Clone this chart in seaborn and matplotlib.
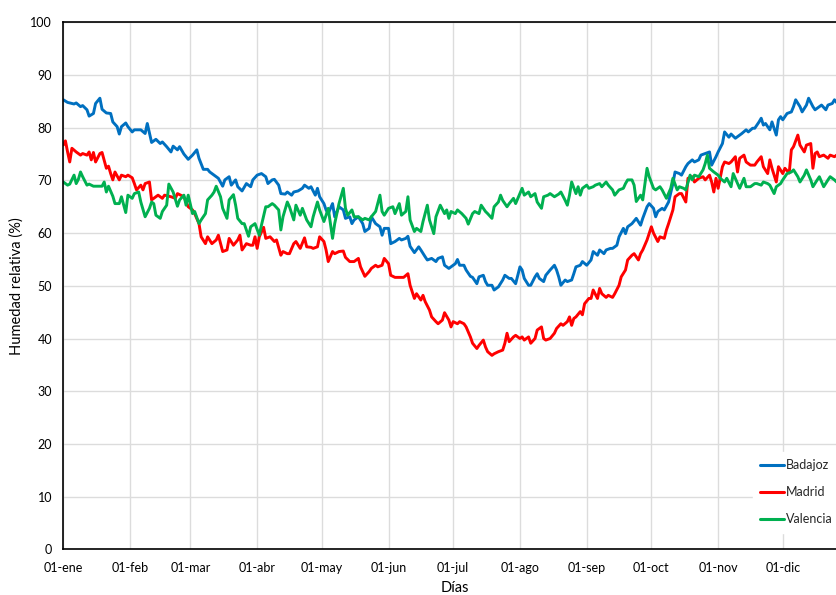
import numpy as np
import pandas as pd
import matplotlib
matplotlib.use("Agg")
import matplotlib.pyplot as plt
import seaborn as sns

# ---- data (day of year, relative humidity %) ----
badajoz_days = [0, 2, 5, 6, 8, 9, 11, 12, 14, 15, 17, 18, 20, 22, 23, 25, 26, 27, 29, 30, 32, 33, 36, 38, 39, 41, 43, 45, 46, 48, 50, 51, 53, 54, 56, 58, 60, 62, 63, 65, 67, 68, 70, 72, 74, 75, 77, 78, 80, 81, 83, 85, 87, 88, 90, 92, 94, 95, 97, 98, 100, 101, 103, 104, 106, 107, 109, 111, 112, 114, 115, 117, 118, 119, 121, 122, 123, 125, 126, 128, 130, 131, 133, 134, 135, 137, 139, 140, 142, 143, 145, 147, 148, 149, 151, 152, 154, 156, 157, 159, 160, 161, 163, 165, 166, 168, 169, 171, 173, 174, 176, 177, 179, 180, 182, 183, 184, 186, 187, 189, 190, 192, 193, 195, 196, 197, 199, 200, 202, 204, 205, 207, 208, 210, 212, 213, 214, 216, 217, 219, 220, 221, 223, 224, 226, 228, 229, 230, 231, 233, 234, 236, 237, 238, 240, 241, 243, 245, 246, 248, 249, 251, 252, 254, 255, 257, 258, 260, 261, 262, 264, 266, 268, 269, 271, 272, 274, 275, 276, 278, 279, 281, 283, 284, 286, 287, 289, 290, 292, 293, 295, 296, 298, 300, 301, 303, 304, 306, 307, 309, 310, 312, 314, 315, 317, 318, 320, 321, 323, 324, 325, 326, 328, 329, 331, 332, 333, 334, 336, 338, 339, 340, 342, 343, 345, 346, 348, 349, 351, 352, 354, 355, 357, 358, 360, 362, 364]
badajoz_rh = [85.3, 84.8, 84.5, 84.7, 84.0, 84.2, 83.4, 82.2, 82.7, 84.6, 85.6, 83.5, 82.8, 82.7, 81.1, 80.2, 78.8, 80.2, 80.9, 80.2, 79.2, 79.6, 79.6, 78.9, 80.8, 77.2, 77.8, 77.0, 77.3, 76.4, 75.4, 76.5, 75.8, 76.4, 75.0, 74.0, 74.8, 75.8, 74.2, 72.1, 72.1, 71.6, 71.0, 70.4, 68.9, 70.1, 70.7, 69.1, 70.1, 68.8, 68.0, 69.4, 68.8, 70.1, 71.0, 71.3, 70.7, 69.4, 70.1, 70.2, 69.1, 67.5, 67.4, 67.8, 67.2, 67.8, 68.0, 68.5, 69.1, 68.5, 68.8, 67.2, 68.5, 66.9, 65.6, 64.4, 63.7, 65.6, 63.1, 65.0, 64.4, 62.8, 63.1, 61.8, 62.5, 63.1, 61.8, 60.3, 60.9, 63.1, 61.8, 61.2, 59.6, 60.9, 60.9, 58.0, 58.4, 59.0, 58.7, 59.0, 59.4, 57.5, 56.3, 57.4, 56.8, 55.5, 54.9, 55.2, 54.6, 55.2, 55.5, 53.9, 53.3, 53.6, 54.2, 55.0, 53.9, 53.9, 53.0, 51.8, 51.6, 50.4, 51.7, 52.0, 50.8, 50.1, 50.1, 49.2, 49.8, 51.1, 52.0, 51.4, 51.4, 50.4, 53.6, 53.0, 51.4, 50.1, 50.1, 51.7, 52.3, 51.4, 50.8, 52.0, 53.0, 53.9, 53.0, 51.7, 50.1, 51.1, 50.8, 51.1, 52.3, 53.6, 53.9, 54.6, 53.9, 54.9, 56.5, 55.8, 56.8, 56.1, 56.8, 57.1, 57.1, 57.7, 59.3, 60.9, 59.9, 61.2, 61.8, 62.8, 61.5, 62.8, 65.0, 65.6, 64.7, 63.1, 64.1, 64.7, 64.4, 65.9, 69.4, 71.6, 71.3, 71.0, 72.6, 73.2, 73.9, 73.5, 73.9, 74.8, 75.1, 75.4, 72.9, 74.5, 75.4, 77.0, 79.2, 78.2, 78.8, 78.0, 78.6, 78.9, 79.6, 79.2, 79.9, 79.9, 81.1, 81.8, 80.5, 80.8, 79.6, 81.1, 78.6, 81.5, 82.1, 81.5, 82.7, 83.0, 84.0, 85.3, 84.0, 83.0, 84.3, 85.6, 84.0, 83.4, 84.0, 84.3, 83.4, 84.3, 84.6, 85.3, 84.3, 85.0, 84.8]

madrid_days = [0, 1, 2, 3, 4, 6, 8, 9, 11, 12, 13, 14, 15, 17, 18, 20, 21, 22, 23, 24, 26, 27, 29, 30, 32, 33, 34, 36, 37, 38, 40, 41, 43, 44, 46, 47, 50, 52, 53, 56, 58, 60, 61, 63, 64, 66, 67, 69, 71, 72, 74, 76, 77, 79, 81, 82, 83, 85, 87, 88, 89, 90, 91, 93, 94, 96, 98, 99, 101, 102, 104, 105, 107, 108, 110, 112, 113, 115, 116, 118, 119, 121, 122, 123, 125, 126, 128, 130, 131, 133, 135, 137, 138, 140, 142, 143, 145, 146, 148, 149, 151, 152, 154, 156, 158, 160, 161, 163, 164, 166, 167, 168, 170, 171, 173, 174, 176, 177, 179, 180, 181, 183, 184, 186, 187, 189, 190, 192, 193, 195, 196, 197, 199, 200, 202, 204, 205, 206, 207, 209, 210, 212, 213, 214, 216, 217, 219, 220, 222, 223, 224, 226, 228, 229, 231, 232, 234, 235, 236, 237, 238, 240, 241, 242, 244, 245, 246, 248, 249, 250, 252, 253, 255, 256, 258, 259, 261, 262, 264, 265, 267, 268, 269, 271, 273, 274, 276, 277, 279, 280, 281, 283, 284, 286, 287, 289, 290, 292, 293, 295, 297, 298, 300, 301, 302, 303, 304, 306, 307, 309, 310, 312, 313, 314, 316, 317, 319, 321, 322, 324, 325, 327, 328, 329, 331, 332, 334, 335, 337, 338, 339, 341, 342, 344, 345, 347, 348, 349, 350, 351, 353, 355, 356, 358, 359, 361, 363]
madrid_rh = [76.7, 77.5, 75.4, 73.5, 76.1, 75.4, 74.8, 75.1, 74.8, 75.4, 73.9, 75.3, 73.5, 75.1, 75.3, 72.3, 72.7, 71.3, 70.1, 71.6, 70.1, 71.0, 70.7, 71.0, 70.5, 69.4, 68.2, 69.1, 68.2, 69.4, 69.7, 66.3, 66.9, 67.2, 66.6, 67.2, 66.9, 66.6, 67.5, 66.9, 65.0, 64.4, 63.7, 61.8, 59.3, 58.0, 59.3, 58.0, 58.7, 59.6, 56.5, 56.8, 59.0, 57.7, 58.7, 59.6, 56.8, 58.0, 57.7, 57.7, 59.3, 57.1, 59.3, 61.1, 59.0, 59.3, 58.4, 58.7, 55.8, 56.5, 56.1, 56.1, 58.0, 58.4, 57.1, 59.1, 57.4, 57.3, 57.1, 57.4, 59.3, 58.4, 56.8, 54.6, 56.5, 56.1, 56.5, 56.6, 55.4, 54.6, 54.6, 55.2, 53.6, 51.8, 52.7, 53.3, 53.9, 53.6, 53.9, 55.2, 54.2, 52.0, 51.6, 51.6, 51.6, 52.3, 50.1, 47.6, 48.5, 47.3, 48.2, 47.0, 45.4, 44.1, 43.2, 42.8, 43.5, 44.9, 43.5, 42.2, 43.2, 42.8, 43.2, 42.8, 42.2, 40.3, 39.1, 38.1, 38.7, 39.7, 38.4, 37.5, 36.8, 37.1, 37.5, 37.8, 39.1, 41.0, 39.4, 40.3, 40.6, 40.0, 40.3, 39.7, 40.3, 39.1, 40.0, 41.6, 42.2, 40.0, 39.7, 40.0, 41.0, 41.9, 42.8, 42.5, 43.2, 44.1, 42.5, 43.8, 44.1, 45.1, 44.5, 46.6, 47.6, 47.6, 49.2, 47.6, 49.5, 48.5, 47.8, 48.2, 47.8, 48.5, 50.1, 51.7, 53.0, 54.9, 55.8, 56.1, 54.9, 56.1, 56.8, 58.7, 61.2, 60.0, 58.4, 59.3, 59.0, 60.6, 61.8, 64.4, 66.9, 67.5, 67.5, 65.9, 70.4, 70.7, 69.7, 70.4, 70.7, 70.1, 71.0, 69.7, 67.8, 70.4, 68.5, 72.6, 73.5, 73.2, 73.5, 74.5, 71.6, 74.2, 74.8, 73.5, 72.9, 72.9, 73.5, 74.5, 72.6, 71.3, 73.9, 72.3, 69.7, 72.6, 71.3, 72.3, 71.4, 75.8, 76.4, 78.6, 76.7, 75.4, 76.7, 77.0, 72.3, 75.1, 75.4, 74.5, 74.8, 74.2, 74.8, 74.5, 74.8, 75.0, 74.6]

valencia_days = [0, 2, 3, 5, 6, 7, 8, 9, 11, 12, 14, 16, 18, 19, 20, 21, 23, 24, 26, 27, 29, 30, 32, 33, 35, 36, 38, 40, 41, 42, 43, 45, 46, 48, 49, 51, 53, 54, 56, 57, 58, 60, 61, 63, 64, 66, 67, 69, 70, 71, 73, 74, 76, 77, 79, 80, 81, 83, 84, 86, 87, 89, 91, 92, 94, 95, 97, 98, 100, 101, 102, 104, 105, 107, 108, 110, 111, 113, 115, 116, 118, 119, 121, 122, 123, 125, 126, 128, 130, 131, 132, 134, 135, 137, 139, 140, 142, 143, 145, 147, 148, 149, 151, 153, 154, 156, 157, 159, 160, 161, 163, 164, 166, 167, 169, 170, 172, 173, 175, 177, 178, 179, 180, 182, 183, 185, 187, 188, 190, 191, 193, 194, 196, 197, 199, 200, 202, 203, 204, 206, 207, 209, 210, 212, 213, 214, 216, 217, 219, 220, 222, 223, 225, 226, 228, 230, 231, 233, 234, 235, 236, 238, 239, 240, 241, 243, 244, 246, 247, 249, 250, 252, 253, 255, 256, 258, 260, 261, 262, 264, 265, 266, 268, 269, 271, 272, 274, 275, 277, 278, 280, 282, 283, 285, 286, 288, 289, 291, 292, 293, 295, 297, 298, 299, 300, 302, 304, 305, 307, 308, 310, 311, 313, 314, 316, 317, 319, 321, 322, 324, 325, 327, 328, 330, 331, 333, 334, 336, 338, 339, 341, 342, 344, 345, 347, 348, 350, 351, 353, 355, 356, 358, 359, 361, 363]
valencia_rh = [69.7, 69.1, 69.3, 71.0, 69.4, 70.2, 71.6, 70.7, 69.1, 69.3, 68.9, 68.9, 68.9, 69.7, 67.8, 68.9, 67.0, 65.6, 65.6, 66.9, 63.9, 67.2, 66.6, 67.5, 67.8, 65.9, 63.1, 64.7, 65.9, 65.6, 63.4, 62.8, 64.1, 65.3, 69.3, 67.8, 65.1, 66.3, 67.2, 65.3, 67.2, 63.7, 64.1, 61.8, 62.5, 63.7, 66.3, 67.2, 67.8, 68.9, 66.9, 64.7, 62.8, 66.3, 67.3, 65.3, 62.8, 61.8, 61.8, 59.4, 61.2, 61.8, 59.6, 61.5, 65.0, 65.0, 65.6, 65.3, 64.4, 60.6, 63.1, 65.9, 65.0, 62.5, 65.3, 63.4, 64.7, 62.5, 61.2, 63.1, 65.9, 64.4, 62.2, 63.4, 64.7, 59.0, 61.8, 65.6, 68.5, 64.7, 63.4, 64.4, 63.1, 63.1, 62.5, 62.8, 62.5, 63.1, 64.1, 67.2, 64.1, 63.4, 64.7, 65.0, 63.7, 65.6, 63.4, 64.1, 66.9, 62.5, 60.3, 60.9, 60.3, 62.2, 65.3, 62.5, 59.9, 63.1, 65.3, 63.7, 64.4, 62.8, 64.1, 63.7, 64.4, 63.7, 62.8, 61.7, 63.7, 64.1, 63.7, 65.3, 64.1, 63.7, 62.8, 65.0, 65.9, 67.2, 66.2, 65.0, 65.6, 66.6, 65.6, 67.5, 68.5, 67.2, 67.8, 66.9, 67.5, 65.9, 64.7, 66.9, 67.2, 67.5, 66.9, 67.4, 67.8, 66.2, 65.3, 67.2, 69.7, 67.5, 68.8, 67.2, 68.5, 69.1, 68.5, 68.8, 69.1, 69.4, 68.8, 69.7, 69.1, 68.2, 67.2, 68.2, 68.5, 69.4, 70.1, 70.1, 69.1, 66.0, 67.2, 66.3, 72.3, 70.7, 68.5, 68.2, 68.8, 68.2, 66.6, 68.5, 70.4, 68.2, 68.8, 68.5, 68.2, 71.0, 70.1, 71.0, 70.7, 72.0, 73.2, 74.8, 72.3, 71.6, 71.0, 70.4, 69.7, 70.4, 68.8, 71.3, 69.4, 68.5, 70.4, 68.8, 68.8, 69.4, 69.4, 69.1, 69.7, 69.4, 69.1, 67.5, 68.8, 69.4, 70.1, 71.3, 71.6, 72.0, 70.7, 69.7, 71.0, 72.0, 70.1, 68.8, 70.1, 70.7, 68.8, 70.1, 70.7, 70.1, 69.7, 70.2, 69.8]

cities = ["Badajoz", "Madrid", "Valencia"]
colors = ["#0070C0", "#FF0000", "#00B050"]
month_starts = [0, 31, 59, 90, 120, 151, 181, 212, 243, 273, 304, 334]
month_labels = ["01-ene", "01-feb", "01-mar", "01-abr", "01-may", "01-jun",
                "01-jul", "01-ago", "01-sep", "01-oct", "01-nov", "01-dic"]
y_ticks = list(range(0, 101, 10))

frames = []
for name, d, v in zip(cities, [badajoz_days, madrid_days, valencia_days],
                      [badajoz_rh, madrid_rh, valencia_rh]):
    frames.append(pd.DataFrame({"dia": d, "hr": v, "ciudad": name}))
df = pd.concat(frames, ignore_index=True)

sns.set_theme(style="white")
plt.rcParams["font.family"] = ["Lato", "DejaVu Sans"]

fig = plt.figure(figsize=(8.37, 5.95), dpi=100)
ax = fig.add_axes([0.0756, 0.0768, 0.9368, 0.8857])

sns.lineplot(data=df, x="dia", y="hr", hue="ciudad", hue_order=cities,
             palette=colors, linewidth=2.1, ax=ax, estimator=None, sort=True)

ax.set_xlim(0, 364)
ax.set_ylim(0, 100)
ax.set_xticks(month_starts)
ax.set_xticklabels(month_labels)
ax.set_yticks(y_ticks)
ax.grid(True, color="#dcdcdc", linewidth=1.0)
ax.set_axisbelow(True)
for s in ["left", "bottom", "top", "right"]:
    ax.spines[s].set_visible(True)
    ax.spines[s].set_color("black")
    ax.spines[s].set_linewidth(1.2)
ax.tick_params(axis="both", direction="inout", length=6, width=1.0,
               color="black", labelsize=9, labelcolor="black", pad=5)
ax.tick_params(axis="x", pad=6)
ax.set_xlabel("Días", fontsize=10.5, color="black", labelpad=5)
ax.set_ylabel("Humedad relativa (%)", fontsize=10.5, color="black", labelpad=5)

leg = ax.legend(title=None, loc="lower right", bbox_to_anchor=(0.9988, 0.02),
                frameon=True, fancybox=False, fontsize=9, handlelength=1.9,
                handletextpad=0.15, labelspacing=1.2, borderpad=0.6)
leg.get_frame().set_facecolor("white")
leg.get_frame().set_edgecolor("white")
leg.get_frame().set_alpha(1.0)
for line in leg.get_lines():
    line.set_linewidth(2.2)

fig.savefig("out.png", dpi=100)
